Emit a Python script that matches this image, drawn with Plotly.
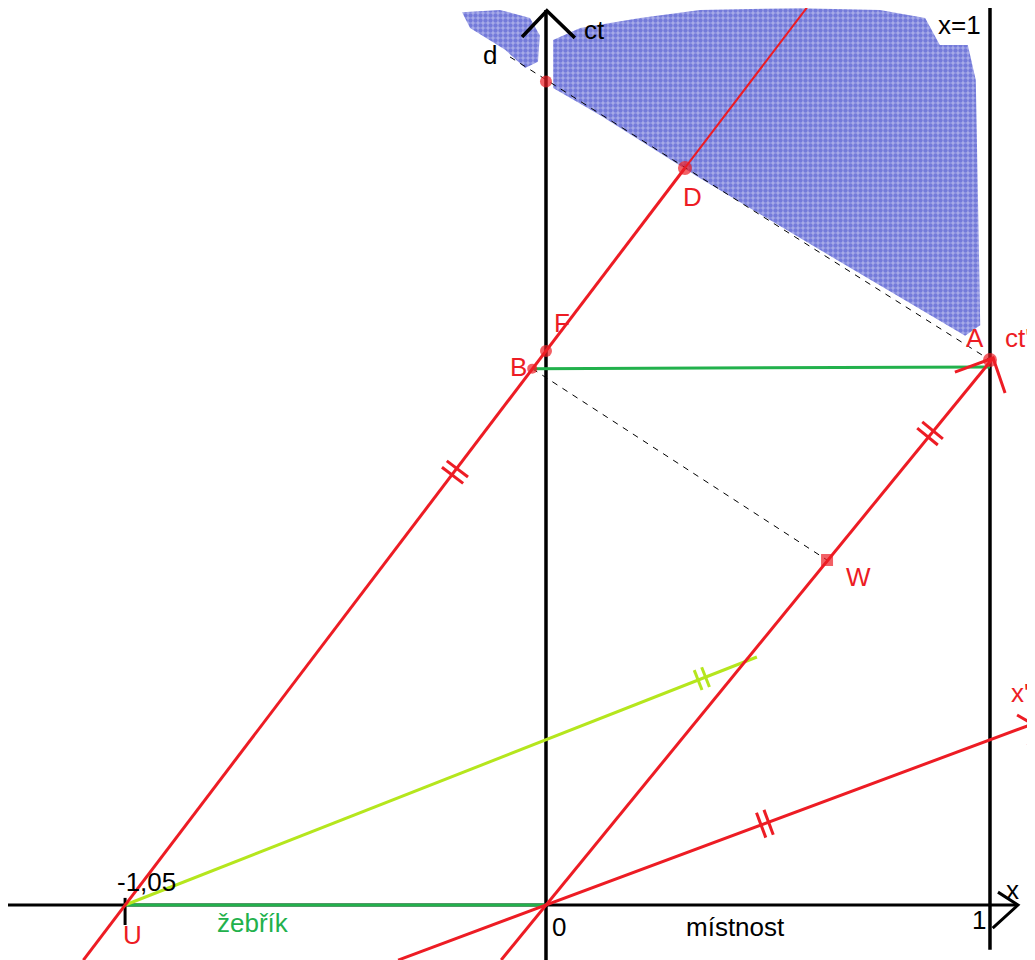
import numpy as np
import plotly.graph_objects as go

# ---------------- data (room units: x in room lengths, ct in same units) -------------
# room frame axes
ct_axis_x = [0.0, 0.0]
ct_axis_y = [-0.124, 2.016]
x_axis_x = [-1.212, 1.063]
x_axis_y = [0.0, 0.0]
wall_x = [1.0, 1.0]          # x = 1
wall_y = [-0.101, 2.04]

# events
event_names = ["U", "O", "B", "F", "D", "A", "W", "d"]
event_x = [-0.948, 0.0, -0.031, 0.0, 0.313, 1.0, 0.633, 0.0]
event_y = [0.0, 0.0, 1.208, 1.248, 1.660, 1.2275, 0.777, 1.855]

# red world lines
rear_x = [-1.042, 0.313]          # rear end of ladder, through U, B, F, D
rear_y = [-0.124, 1.660]
rear_ext_x = [0.313, 0.592]
rear_ext_y = [1.660, 2.027]
ctp_x = [-0.101, 1.007]           # ct' axis (front end of ladder), through O, W, A
ctp_y = [-0.124, 1.232]
xp_x = [-0.333, 1.101]            # x' axis
xp_y = [-0.124, 0.4096]

# green: ladder length in room frame (U -> O) and B -> A
ladder_x = [-0.948, 0.0]
ladder_y = [0.0, 0.0]
ba_x = [-0.031, 1.0]
ba_y = [1.208, 1.212]
# light green: simultaneity line through U
lime_x = [-0.948, 0.475]
lime_y = [0.0, 0.5586]

# dashed light signals
dash1_x = [-0.081, 1.0]
dash1_y = [1.910, 1.2275]
dash2_x = [-0.031, 0.633]
dash2_y = [1.208, 0.777]

# blue sprayed region
blue_main_x = [0.016, 0.077, 0.212, 0.347, 0.572, 0.752, 0.854, 0.887, 0.950, 0.968,
               0.973, 0.978, 0.944, 0.685, 0.347, 0.122, 0.016]
blue_main_y = [1.948, 1.975, 1.998, 2.016, 2.020, 2.016, 1.998, 1.937, 1.937, 1.858,
               1.588, 1.306, 1.282, 1.435, 1.637, 1.779, 1.840]
blue_small_x = [-0.189, -0.104, -0.036, -0.014, -0.018, -0.047, -0.092, -0.171]
blue_small_y = [2.011, 2.016, 1.998, 1.959, 1.899, 1.885, 1.926, 1.975]

# equal-length hash marks: centres on the lines
hash_cx = [-0.205, 0.865, 0.493, 0.351]
hash_cy = [0.975, 1.062, 0.183, 0.510]
hash_line = ["rear", "ctp", "xp", "lime"]

# labels
labels = ["ct", "d", "x=1", "A", "ct'", "F", "B", "W", "D", "-1,05", "U", "žebřík",
          "0", "místnost", "x'", "x", "1"]
label_x = [0.110, -0.126, 0.932, 0.966, 1.063, 0.036, -0.063, 0.703, 0.331, -0.899,
           -0.932, -0.660, 0.029, 0.426, 1.068, 1.050, 0.975]
label_y = [1.971, 1.914, 1.982, 1.277, 1.277, 1.311, 1.212, 0.739, 1.595, 0.052,
           -0.068, -0.041, -0.050, -0.050, 0.477, 0.034, -0.034]

# ---------------- styling ----------------
RED = "#ed1c24"
GREEN = "#22b14c"
LIME = "#b5e61d"
BLUE = "#3f48cc"
label_color = ["black", "black", "black", RED, RED, RED, RED, RED, RED, "black", RED, GREEN,
               "black", "black", RED, "black", "black"]

fig = go.Figure()


def line(xs, ys, color, width, dash="solid"):
    fig.add_trace(go.Scatter(x=xs, y=ys, mode="lines",
                             line=dict(color=color, width=width, dash=dash),
                             hoverinfo="skip", showlegend=False))


# blue region
for bx, by in [(blue_main_x, blue_main_y), (blue_small_x, blue_small_y)]:
    fig.add_trace(go.Scatter(x=bx + [bx[0]], y=by + [by[0]], mode="lines", fill="toself",
                             line=dict(width=0, color=BLUE),
                             fillcolor="rgba(63,72,204,0.45)",
                             fillpattern=dict(shape=".", fgcolor=BLUE, size=5, solidity=0.6),
                             hoverinfo="skip", showlegend=False))

# dashed light lines
line(dash1_x, dash1_y, "black", 1, "6px,6px")
line(dash2_x, dash2_y, "black", 1, "6px,6px")

# room axes
line(ct_axis_x, ct_axis_y, "black", 3.5)
line(x_axis_x, x_axis_y, "black", 3)
line(wall_x, wall_y, "black", 3.5)
# arrow heads of room axes
line([-0.054, 0.002, 0.065], [1.955, 2.014, 1.953], "black", 3.5)
line([1.018, 1.063, 1.006], [0.029, 0.0, -0.052], "black", 3)
# tick at U
line([-0.948, -0.948], [0.016, -0.045], "black", 3)

# green lines
line(ladder_x, ladder_y, GREEN, 3)
line(ba_x, ba_y, GREEN, 3)
line(lime_x, lime_y, LIME, 3)

# red lines
line(rear_x, rear_y, RED, 3)
line(rear_ext_x, rear_ext_y, RED, 2)
line(ctp_x, ctp_y, RED, 3)
line(xp_x, xp_y, RED, 3)
# arrow heads of primed axes
line([0.921, 1.007, 1.034], [1.200, 1.232, 1.153], RED, 3)
line([1.061, 1.101, 1.086], [0.428, 0.405, 0.360], RED, 3)

# hash marks (two short strokes across the line)
line_dirs = {"rear": (rear_x, rear_y), "ctp": (ctp_x, ctp_y), "xp": (xp_x, xp_y),
             "lime": (lime_x, lime_y)}
for cx, cy, name in zip(hash_cx, hash_cy, hash_line):
    lx, ly = line_dirs[name]
    d = np.array([lx[1] - lx[0], ly[1] - ly[0]])
    d = d / np.linalg.norm(d)
    n = np.array([d[1], -d[0]])
    half = 0.024 if name == "lime" else 0.03
    col = LIME if name == "lime" else RED
    for off in (-0.009, 0.009):
        c = np.array([cx, cy]) + off * d
        p1 = c - half * n
        p2 = c + half * n
        line([p1[0], p2[0]], [p1[1], p2[1]], col, 3)

# event markers (red dots)
shown = [n in ("B", "F", "D", "A", "W", "d") for n in event_names]
mx = [x for x, s in zip(event_x, shown) if s]
my = [y for y, s in zip(event_y, shown) if s]
msize = [10, 12, 14, 14, 12, 12]
msym = ["circle", "circle", "circle", "circle", "square", "circle"]
fig.add_trace(go.Scatter(x=mx, y=my, mode="markers",
                         marker=dict(color=RED, size=msize, symbol=msym, line=dict(width=0)),
                         hoverinfo="skip", showlegend=False))

# labels
for t, x, y, c in zip(labels, label_x, label_y, label_color):
    fig.add_annotation(x=x, y=y, text=t, showarrow=False, xanchor="center", yanchor="middle",
                       font=dict(family="Liberation Sans, Arial, sans-serif", size=26, color=c))

# the page body has an 8px margin, so the ranges are shifted to keep the drawing in place
fig.update_layout(
    width=1035, height=960,
    margin=dict(l=0, r=0, t=0, b=0),
    paper_bgcolor="white", plot_bgcolor="white",
    xaxis=dict(range=[-1.2117, 1.1194], visible=False, fixedrange=True),
    yaxis=dict(range=[-0.1419, 2.0203], visible=False, fixedrange=True),
    showlegend=False,
)

fig.write_html("out.html")
